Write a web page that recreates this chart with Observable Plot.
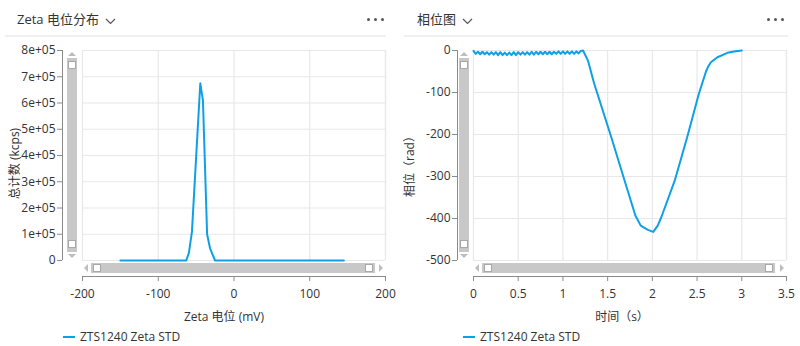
<!DOCTYPE html>
<html>
<head>
<meta charset="utf-8">
<script src="https://cdn.jsdelivr.net/npm/d3@7"></script>
<script src="https://cdn.jsdelivr.net/npm/@observablehq/plot@0.6"></script>
<style>
  html, body { margin: 0; padding: 0; background: #fff; }
  #root { position: relative; width: 800px; height: 346px; overflow: hidden; background: #fff;
    font-family: "Open Sans", "Noto Sans CJK SC", sans-serif; color: #333; }
  .panel { position: absolute; top: 0; width: 400px; height: 346px; }
  .title { position: absolute; top: 9px; font-size: 13px; color: #333; white-space: nowrap; }
  .title svg { vertical-align: middle; margin-left: 6px; }
  .dots { position: absolute; top: 18px; }
  .dots span { position: absolute; width: 3px; height: 3px; border-radius: 2px; background: #555; top: 0; }
  .sep { position: absolute; top: 35px; height: 2px; background: #f0f0f0; }
  .chart { position: absolute; top: 40px; left: 0; }
  .legend { position: absolute; top: 328px; font-size: 12px; color: #333; white-space: nowrap; }
  .legend i { position: absolute; top: 8px; width: 12px; height: 2px; background: #0ea0e6; }
  .legend b { position: absolute; top: 0; font-weight: normal; }
  .vbar { position: absolute; width: 10px; background: #c8c8c8; }
  .hbar { position: absolute; height: 10px; background: #c8c8c8; }
  .hnd { position: absolute; width: 6px; height: 6px; background: #fff; border: 1px solid #a8a8a8; }
  .arr { position: absolute; width: 0; height: 0; }
  .up { border-left: 4px solid transparent; border-right: 4px solid transparent; border-bottom: 4px solid #bdbdbd; }
  .dn { border-left: 4px solid transparent; border-right: 4px solid transparent; border-top: 4px solid #bdbdbd; }
  .lf { border-top: 4px solid transparent; border-bottom: 4px solid transparent; border-right: 4px solid #bdbdbd; }
  .rt { border-top: 4px solid transparent; border-bottom: 4px solid transparent; border-left: 4px solid #bdbdbd; }
</style>
</head>
<body>
<div id="root">
  <div class="panel" id="p1" style="left:0">
    <div class="title" style="left:17px">Zeta 电位分布<svg width="11" height="8"><polyline points="1,2 5.5,6.5 10,2" fill="none" stroke="#555" stroke-width="1.2"/></svg></div>
    <div class="dots" style="left:367px"><span style="left:0"></span><span style="left:7px"></span><span style="left:14px"></span></div>
    <div class="sep" style="left:5px;width:381px"></div>
    <div class="chart" id="c1"></div>
    <div class="arr up" style="left:68px;top:52px"></div>
    <div class="vbar" style="left:67px;top:58px;height:194px"><div class="hnd" style="left:1px;top:3px"></div><div class="hnd" style="left:1px;top:182px"></div></div>
    <div class="arr dn" style="left:68px;top:254px"></div>
    <div class="arr lf" style="left:84px;top:264px"></div>
    <div class="hbar" style="left:91px;top:263px;width:284px"><div class="hnd" style="left:2px;top:1px"></div><div class="hnd" style="left:274px;top:1px"></div></div>
    <div class="arr rt" style="left:379px;top:264px"></div>
    <div class="legend" style="left:63px"><i style="left:0"></i><b style="left:17px">ZTS1240 Zeta STD</b></div>
  </div>
  <div class="panel" id="p2" style="left:400px">
    <div class="title" style="left:17px">相位图<svg width="11" height="8"><polyline points="1,2 5.5,6.5 10,2" fill="none" stroke="#555" stroke-width="1.2"/></svg></div>
    <div class="dots" style="left:367px"><span style="left:0"></span><span style="left:7px"></span><span style="left:14px"></span></div>
    <div class="sep" style="left:4px;width:384px"></div>
    <div class="chart" id="c2"></div>
    <div class="arr up" style="left:60px;top:52px"></div>
    <div class="vbar" style="left:59px;top:58px;height:194px"><div class="hnd" style="left:1px;top:3px"></div><div class="hnd" style="left:1px;top:182px"></div></div>
    <div class="arr dn" style="left:60px;top:254px"></div>
    <div class="arr lf" style="left:75px;top:264px"></div>
    <div class="hbar" style="left:82px;top:263px;width:293px"><div class="hnd" style="left:2px;top:1px"></div><div class="hnd" style="left:283px;top:1px"></div></div>
    <div class="arr rt" style="left:380px;top:264px"></div>
    <div class="legend" style="left:63px"><i style="left:0"></i><b style="left:17px">ZTS1240 Zeta STD</b></div>
  </div>
</div>
<script>
// ---- Data: Zeta potential distribution ----
const zetaMv     = [-150, -63, -59.5, -55.5, -44.5, -41, -35.5, -31.5, -25, 145];
const zetaCounts = [0, 0, 30000, 110000, 675000, 610000, 100000, 45000, 0, 0];
const zetaTicksX = [-200, -100, 0, 100, 200];
const zetaTicksY = [0, 100000, 200000, 300000, 400000, 500000, 600000, 700000, 800000];

// ---- Data: phase plot ----
const phaseTime = [
  0, 0.025, 0.05, 0.075, 0.1, 0.125, 0.15, 0.175, 0.2, 0.225,
  0.25, 0.275, 0.3, 0.325, 0.35, 0.375, 0.4, 0.425, 0.45, 0.475,
  0.5, 0.525, 0.55, 0.575, 0.6, 0.625, 0.65, 0.675, 0.7, 0.725,
  0.75, 0.775, 0.8, 0.825, 0.85, 0.875, 0.9, 0.925, 0.95, 0.975,
  1.0, 1.025, 1.05, 1.075, 1.1, 1.125, 1.15, 1.175, 1.2,
  1.225, 1.28, 1.35, 1.54, 1.69, 1.81, 1.87, 1.95, 2.01, 2.06, 2.1,
  2.25, 2.39, 2.52, 2.6, 2.62, 2.654, 2.728, 2.84, 2.914, 3.0
];
const phaseRad = [
  -1, -8, -3, -9, -3, -9, -4, -10, -4, -10,
  -4, -11, -4, -11, -5, -11, -5, -11, -4, -11,
  -4, -10, -4, -10, -4, -10, -3, -10, -3, -9,
  -3, -9, -3, -9, -3, -9, -3, -8, -2, -8,
  -2, -8, -2, -8, -2, -8, -2, -7, -1,
  0, -24, -79, -206, -310, -393, -417, -427, -432, -417, -397,
  -310, -206, -103, -50, -40, -28, -16, -5.6, -2.4, 0
];
const phaseTicksX = [0, 0.5, 1, 1.5, 2, 2.5, 3, 3.5];
const phaseTicksY = [-500, -400, -300, -200, -100, 0];

const lineColor = "#0ea0e6";
const gridColor = "#e8e8e8";
const axisColor = "#8a8a8a";
const font = "'Open Sans', 'Noto Sans CJK SC', sans-serif";

const zetaData = zetaMv.map((x, i) => ({x, y: zetaCounts[i]}));
const phaseData = phaseTime.map((x, i) => ({x, y: phaseRad[i]}));

function panel({data, xDomain, yDomain, xTicks, yTicks, yFmt, xLabel, yLabel, mLeft, mRight, xInset}) {
  const yInset = 16;
  return Plot.plot({
    width: 400, height: 286,
    marginTop: 10, marginLeft: mLeft, marginRight: mRight, marginBottom: 50,
    style: {fontFamily: font, fontSize: "12px", color: "#333", background: "transparent", overflow: "visible"},
    x: {domain: xDomain, insetLeft: xInset},
    y: {domain: yDomain, insetBottom: yInset},
    marks: [
      Plot.gridX({ticks: xTicks, insetBottom: yInset, stroke: gridColor, strokeOpacity: 1, strokeWidth: 1.2}),
      Plot.gridY({ticks: yTicks, insetLeft: xInset, stroke: gridColor, strokeOpacity: 1, strokeWidth: 1.2}),
      Plot.ruleX([xDomain[1]], {y1: yDomain[0], y2: yDomain[1], stroke: gridColor, strokeWidth: 1.2}),
      Plot.ruleX([xDomain[0]], {y1: yDomain[0], y2: yDomain[1], dx: -xInset, stroke: axisColor}),
      Plot.ruleY([yDomain[0]], {x1: xDomain[0], x2: xDomain[1], dy: yInset, stroke: axisColor}),
      Plot.axisX({ticks: xTicks, tickFormat: d => String(d), tickSize: 5, tickPadding: 8, stroke: axisColor, fill: "#333",
        label: xLabel, labelAnchor: "center", labelArrow: "none", labelOffset: 44, fontSize: 12}),
      Plot.axisY({ticks: yTicks, tickSize: 5, tickPadding: 2, stroke: axisColor, fill: "#333", tickFormat: yFmt,
        label: yLabel, labelAnchor: "center", labelArrow: "none", labelOffset: 52, fontSize: 12}),
      Plot.line(data, {x: "x", y: "y", stroke: lineColor, strokeWidth: 2})
    ]
  });
}

document.getElementById("c1").append(panel({
  data: zetaData, xDomain: [-200, 200], yDomain: [0, 800000],
  xTicks: zetaTicksX, yTicks: zetaTicksY,
  yFmt: d => d === 0 ? "0" : `${d / 100000}e+05`,
  xLabel: "Zeta 电位 (mV)", yLabel: "总计数 (kcps)",
  mLeft: 62, mRight: 15, xInset: 20
}));

document.getElementById("c2").append(panel({
  data: phaseData, xDomain: [0, 3.5], yDomain: [-500, 0],
  xTicks: phaseTicksX, yTicks: phaseTicksY,
  yFmt: d => String(d),
  xLabel: "时间（s）", yLabel: "相位（rad）",
  mLeft: 57, mRight: 14, xInset: 16
}));
</script>
</body>
</html>
